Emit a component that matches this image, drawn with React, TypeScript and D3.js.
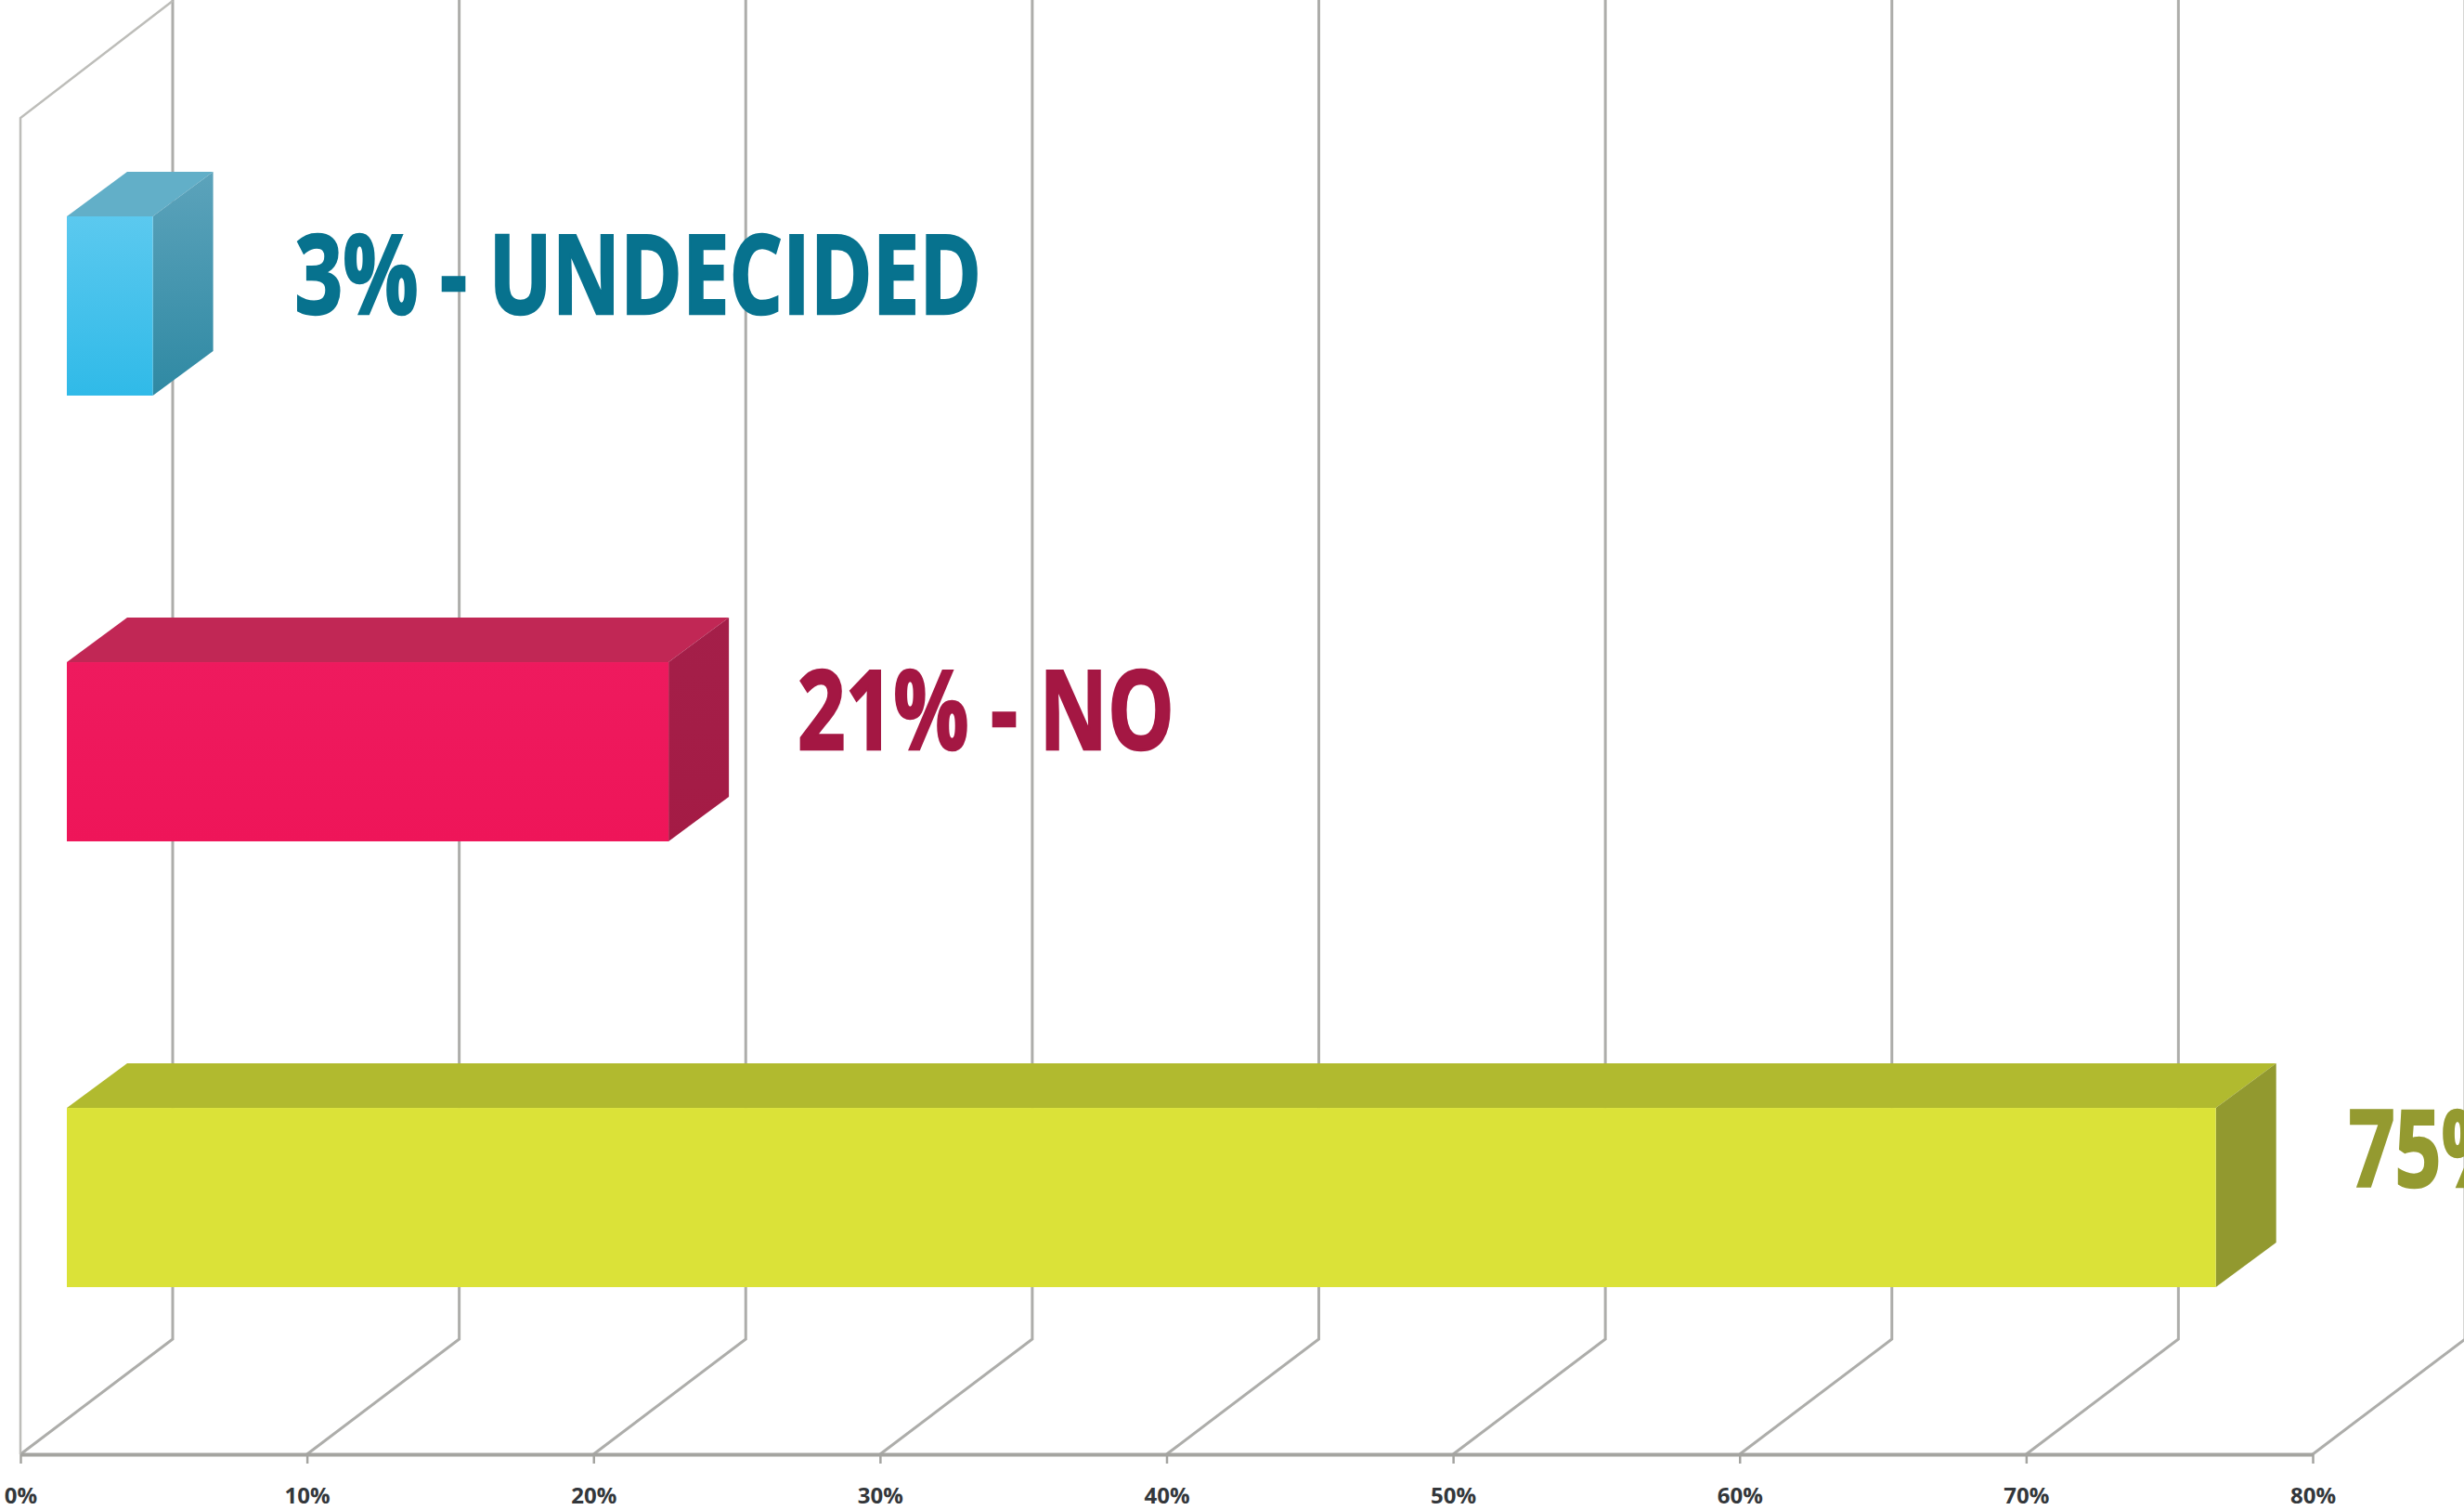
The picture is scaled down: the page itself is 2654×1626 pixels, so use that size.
import React, { useEffect, useRef } from 'react';
import * as d3 from 'd3';

// Chart data
const categories = ['3% - UNDECIDED', '21% - NO', '75% - YES'];
const values = [3, 21, 75];
const tickValues = [0, 10, 20, 30, 40, 50, 60, 70, 80];

// Colours per bar: front top/bottom, top face, side top/bottom, label
const frontTop = ['#5bc9ef', '#ee1a5e', '#dbe238'];
const frontBottom = ['#30bae8', '#ee1559', '#dbe238'];
const topFace = ['#62afc8', '#c12755', '#b1ba2f'];
const sideTop = ['#5ca3bb', '#a41f49', '#92992f'];
const sideBottom = ['#2f89a3', '#a41b45', '#92992f'];
const labelColors = ['#07728e', '#a41743', '#949a30'];

const WIDTH = 2654;
const HEIGHT = 1626;

function App() {
    const d3Container = useRef<SVGSVGElement | null>(null);

    useEffect(() => {
        if (!d3Container.current) return;

        const svg = d3.select(d3Container.current);
        svg.selectAll('*').remove();

        const baseY = 1566;
        const x = d3.scaleLinear().domain([0, 80]).range([22, 2491]);
        const y = d3.scaleBand<string>()
            .domain(categories)
            .range([233, 1386])
            .paddingInner(0.598)
            .paddingOuter(0);

        // Depth of the 3D box: floor and wall, then the bar itself
        const wallDx = 164, wallDy = 124;
        const barInset = 50, barDx = 65, barDy = 48;

        const defs = svg.append('defs');
        categories.forEach((c, i) => {
            const addGradient = (id: string, from: string, to: string) => {
                const g = defs.append('linearGradient')
                    .attr('id', id)
                    .attr('x1', 0).attr('y1', 0).attr('x2', 0).attr('y2', 1);
                g.append('stop').attr('offset', '0%').attr('stop-color', from);
                g.append('stop').attr('offset', '100%').attr('stop-color', to);
            };
            addGradient(`front-${i}`, frontTop[i], frontBottom[i]);
            addGradient(`side-${i}`, sideTop[i], sideBottom[i]);
        });

        // Gridlines on the back wall, running into the floor
        const line = d3.line();
        const grid = svg.append('g').attr('fill', 'none');
        grid.selectAll('path.grid')
            .data(tickValues)
            .enter()
            .append('path')
            .attr('class', 'grid')
            .attr('stroke', '#adadaa')
            .attr('stroke-width', 3)
            .attr('d', (t) => line([
                [x(t), baseY],
                [x(t) + wallDx, baseY - wallDy],
                [x(t) + wallDx, 0],
            ]));

        // Left side wall
        grid.append('path')
            .attr('stroke', '#bdbdb9')
            .attr('stroke-width', 2.5)
            .attr('d', line([
                [x(0), baseY],
                [x(0), 127],
                [x(0) + wallDx, 1],
            ]));

        // X axis
        const axis = svg.append('g')
            .attr('transform', `translate(0,${baseY})`)
            .call(
                d3.axisBottom(x)
                    .tickValues(tickValues)
                    .tickFormat((d) => `${d}%`)
                    .tickSize(10)
                    .tickSizeOuter(0)
                    .tickPadding(26)
            );
        axis.select('.domain').attr('stroke', '#a4a4a0').attr('stroke-width', 4);
        axis.selectAll('.tick line').attr('stroke', '#a4a4a0').attr('stroke-width', 2.5);
        axis.selectAll('.tick text')
            .attr('fill', '#33373b')
            .attr('font-family', '"Open Sans"')
            .attr('font-weight', 700)
            .attr('font-size', 24);

        // Bars, three faces each
        const bars = svg.selectAll('g.bar')
            .data(categories)
            .enter()
            .append('g')
            .attr('class', 'bar');

        const barLeft = x(0) + barInset;
        const barRight = (i: number) => barLeft + x(values[i]) - x(0);
        const h = y.bandwidth();

        bars.append('path')
            .attr('fill', (_, i) => topFace[i])
            .attr('d', (c, i) => {
                const t = y(c)!;
                return line([
                    [barLeft, t],
                    [barLeft + barDx, t - barDy],
                    [barRight(i) + barDx, t - barDy],
                    [barRight(i), t],
                ]) + 'Z';
            });

        bars.append('path')
            .attr('fill', (_, i) => `url(#side-${i})`)
            .attr('d', (c, i) => {
                const t = y(c)!;
                return line([
                    [barRight(i), t],
                    [barRight(i) + barDx, t - barDy],
                    [barRight(i) + barDx, t + h - barDy],
                    [barRight(i), t + h],
                ]) + 'Z';
            });

        bars.append('rect')
            .attr('x', barLeft)
            .attr('y', (c) => y(c)!)
            .attr('width', (_, i) => barRight(i) - barLeft)
            .attr('height', h)
            .attr('fill', (_, i) => `url(#front-${i})`);

        // Condensed bold labels: no condensed face installed, so squeeze Open Sans
        const labelLift = [105, 94, 85];
        const labelGap = [88, 74, 78];
        const labelSize = [118, 118, 114];
        const labelStretch = 0.765;
        bars.append('text')
            .text((c) => c)
            .attr('transform', (c, i) =>
                `translate(${barRight(i) + barDx + labelGap[i]},${y(c)! + labelLift[i]}) scale(${labelStretch},1)`)
            .attr('fill', (_, i) => labelColors[i])
            .attr('stroke', (_, i) => labelColors[i])
            .attr('stroke-width', 2.5)
            .attr('font-family', '"Open Sans"')
            .attr('font-weight', 700)
            .attr('font-size', (_, i) => labelSize[i]);
    }, []);

    return (
        <svg
            ref={d3Container}
            width={WIDTH}
            height={HEIGHT}
            style={{ position: 'absolute', left: 0, top: 0, background: '#fff' }}
        />
    );
}

export default App;
